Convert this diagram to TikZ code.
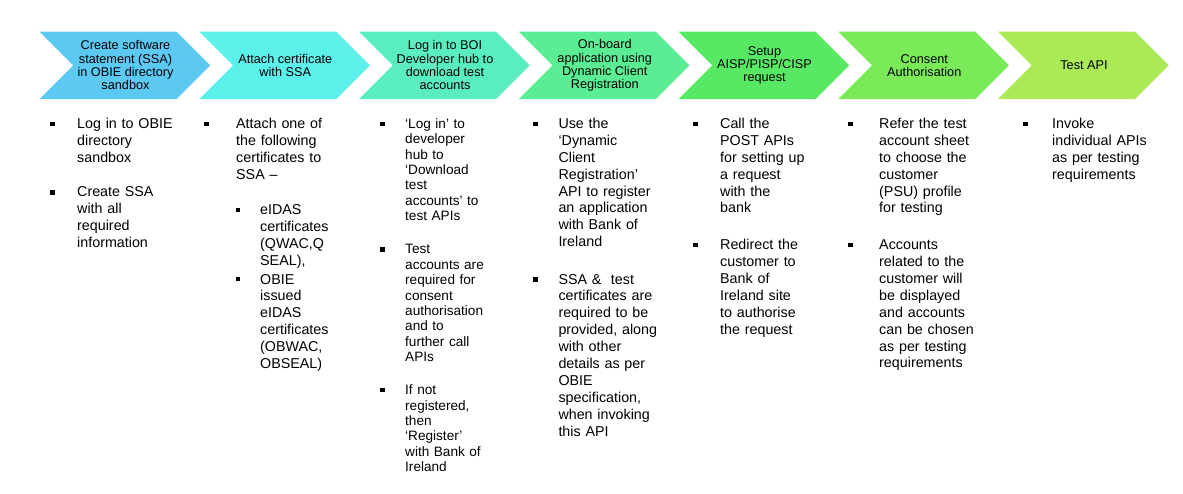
\documentclass[tikz,border=0pt]{standalone}
\usepackage{fontspec}
\setmainfont{Liberation Sans}
\usetikzlibrary{positioning}

\definecolor{stepA}{HTML}{5BC9F2}
\definecolor{stepB}{HTML}{5CF0EA}
\definecolor{stepC}{HTML}{5AEDC2}
\definecolor{stepD}{HTML}{5AED93}
\definecolor{stepE}{HTML}{57E964}
\definecolor{stepF}{HTML}{7BEA58}
\definecolor{stepG}{HTML}{A9EA56}

\begin{document}
\begin{tikzpicture}[x=1pt,y=-1pt,
    chevtext/.style={align=center,inner sep=0,font=\fontsize{12.7}{13.3}\selectfont},
    body/.style={anchor=base west,inner sep=0,text width=125pt,align=left,font=\fontsize{14.3}{16.9}\selectfont},
    bodysmall/.style={body,font=\fontsize{13.6}{15.4}\selectfont},
    bul/.style={fill=black,inner sep=0,minimum width=5pt,minimum height=4.5pt},
    subbul/.style={bul,minimum width=3.8pt,minimum height=4.2pt}]
  \useasboundingbox (0,0) rectangle (1183,494);
  % chevrons
  \foreach \col [count=\i from 0] in {stepA,stepB,stepC,stepD,stepE,stepF,stepG}{
    \fill[\col] ({39.5+159.75*\i},31.7) -- ++(137,0) -- ++(33.7,33.7) -- ++(-33.7,33.7)
      -- ++(-137,0) -- ++(33.7,-33.7) -- cycle;
    \coordinate (c\i) at ({39.5+159.75*\i+86},65.4);
  }
  \node[chevtext] (head1) at (c0) {Create software\\statement (SSA)\\in OBIE directory\\sandbox};
  \node[chevtext] (head2) at (c1) {Attach certificate\\with SSA};
  \node[chevtext] (head3) at (c2) {Log in to BOI\\Developer hub to\\download test\\accounts};
  \node[chevtext] (head4) at (c3) {On-board\\application using\\Dynamic Client\\Registration};
  \node[chevtext] (head5) at (c4) {Setup\\AISP/PISP/CISP\\request};
  \node[chevtext] (head6) at (c5) {Consent\\Authorisation};
  \node[chevtext] (head7) at (c6) {Test API};

  % step 1
  \node[bul] (b1a) at (52.3,123.8) {};
  \node[body] (t1a) at (77,128.5) {Log in to OBIE\\directory\\sandbox};
  \node[bul] (b1b) at (52.3,192.3) {};
  \node[body] (t1b) at (77,197) {Create SSA\\with all\\required\\information};
  % step 2
  \node[bul] (b2a) at (206.7,123.8) {};
  \node[body] (t2a) at (236,128.5) {Attach one of\\the following\\certificates to\\SSA --};
  \node[subbul] (b2b) at (238.3,210.3) {};
  \node[body] (t2b) at (260,215) {eIDAS\\certificates\\(QWAC,Q\\SEAL),};
  \node[subbul] (b2c) at (238.3,279.3) {};
  \node[body] (t2c) at (260,284) {OBIE\\issued\\eIDAS\\certificates\\(OBWAC,\\OBSEAL)};
  % step 3
  \node[bul] (b3a) at (382.7,123.8) {};
  \node[bodysmall] (t3a) at (405,128.3) {‘Log in’ to\\developer\\hub to\\‘Download\\test\\accounts’ to\\test APIs};
  \node[bul] (b3b) at (382.7,249.3) {};
  \node[bodysmall] (t3b) at (405,254) {Test\\accounts are\\required for\\consent\\authorisation\\and to\\further call\\APIs};
  \node[bul] (b3c) at (382.7,390) {};
  \node[bodysmall] (t3c) at (405,394.7) {If not\\registered,\\then\\‘Register’\\with Bank of\\Ireland};
  % step 4
  \node[bul] (b4a) at (535.7,123.8) {};
  \node[body] (t4a) at (558.3,128.5) {Use the\\‘Dynamic\\Client\\Registration’\\API to register\\an application\\with Bank of\\Ireland};
  \node[bul] (b4b) at (535.7,279.3) {};
  \node[body] (t4b) at (558.3,284) {SSA \& \ test\\certificates are\\required to be\\provided, along\\with other\\details as per\\OBIE\\specification,\\when invoking\\this API};
  % step 5
  \node[bul] (b5a) at (695,123.8) {};
  \node[body] (t5a) at (720,128.5) {Call the\\POST APIs\\for setting up\\a request\\with the\\bank};
  \node[bul] (b5b) at (695,245) {};
  \node[body] (t5b) at (720,249.7) {Redirect the\\customer to\\Bank of\\Ireland site\\to authorise\\the request};
  % step 6
  \node[bul] (b6a) at (850,123.8) {};
  \node[body] (t6a) at (879,128.5) {Refer the test\\account sheet\\to choose the\\customer\\(PSU) profile\\for testing};
  \node[bul] (b6b) at (850,245) {};
  \node[body] (t6b) at (879,249.7) {Accounts\\related to the\\customer will\\be displayed\\and accounts\\can be chosen\\as per testing\\requirements};
  % step 7
  \node[bul] (b7a) at (1025,123.8) {};
  \node[body] (t7a) at (1052,128.5) {Invoke\\individual APIs\\as per testing\\requirements};
\end{tikzpicture}
\end{document}
